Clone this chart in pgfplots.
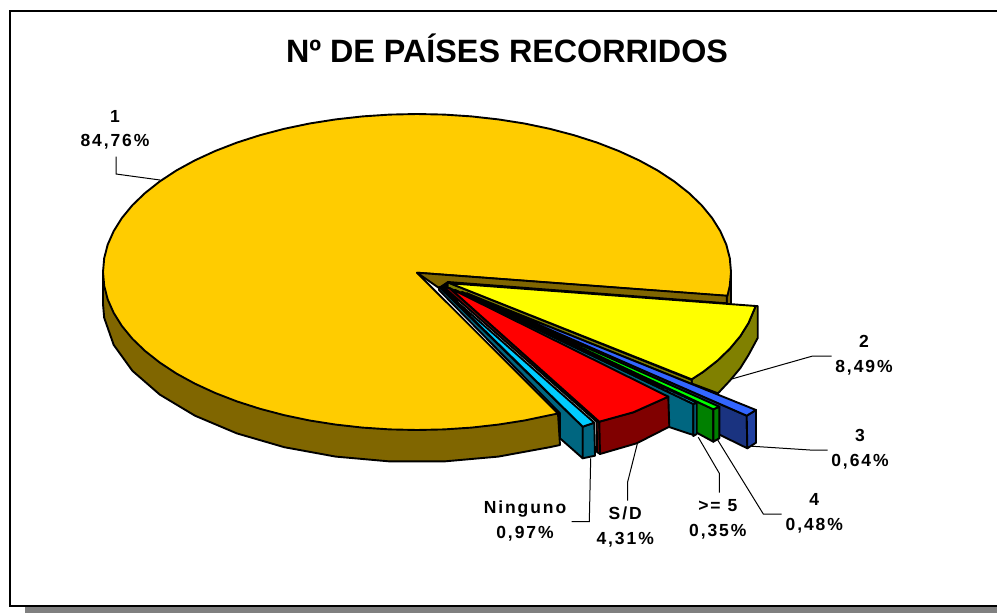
\documentclass[border=0pt]{standalone}
\usepackage{fontspec}
\setmainfont{Liberation Sans}
\newfontfamily\labfont[LetterSpace=11]{Liberation Sans}
\usepackage{pgfplots}
\pgfplotsset{compat=1.18}
\definecolor{bigtop}{HTML}{FFCC00}
\definecolor{bigside}{HTML}{806600}
\definecolor{yeltop}{HTML}{FFFF00}
\definecolor{yelside}{HTML}{808000}
\definecolor{bluetop}{HTML}{3366FF}
\definecolor{navy}{HTML}{1A3380}
\definecolor{navyb}{HTML}{2040A0}
\definecolor{grntop}{HTML}{00FF00}
\definecolor{grnside}{HTML}{008000}
\definecolor{teal2}{HTML}{006680}
\definecolor{cyan2}{HTML}{00CCFF}
\definecolor{redside}{HTML}{800000}
\definecolor{shadowc}{HTML}{808080}
\tikzset{lab/.style={font=\labfont\bfseries\fontsize{17.5}{24.5}\selectfont,align=center,text=black,inner sep=0pt}}
\pgfplotsset{poly/.style={draw=black,line width=1.9pt,line join=round,mark=none,forget plot},
 lead/.style={draw=black,line width=1pt,mark=none,forget plot}}
\begin{document}
\begin{tikzpicture}
\begin{axis}[scale only axis,width=997pt,height=613pt,xmin=0,xmax=997,ymin=0,ymax=613,y dir=reverse,hide axis,clip=true]
% page, frame and shadow
\addplot[fill=white,draw=none,mark=none,forget plot] coordinates {(0,0)(997,0)(997,613)(0,613)} -- cycle;
\addplot[fill=shadowc,draw=none,mark=none,forget plot] coordinates {(25,30)(997,30)(997,613)(25,613)} -- cycle;
\addplot[fill=white,draw=black,line width=1.3pt,mark=none,forget plot] coordinates {(10,11)(1003,11)(1003,606)(10,606)} -- cycle;
% leaders
\addplot[lead] coordinates {(116,156.7)(116,174)(160,180)};
\addplot[lead] coordinates {(731.7,379)(812.7,356)(831.7,356)};
\addplot[lead] coordinates {(748.3,446)(810,450)(827.7,450)};
\addplot[lead] coordinates {(717.7,440)(763.3,514)(781.7,514)};
\addplot[lead] coordinates {(698.3,437.3)(719.3,473.3)(719.3,492.7)};
\addplot[lead] coordinates {(637.5,443)(627.7,481.7)(627.7,500.7)};
\addplot[lead] coordinates {(590.7,458.3)(589.3,521.7)(571.7,521.7)};
% slice 1: side
\addplot[poly,fill=bigside] coordinates {(103,272)(558,413.5)(560,445)(549.7,447.2)(498.3,456.6)(444.4,461.4)(389.6,461.4)(335.7,456.6)(284.3,447.2)(236.9,433.4)(195,415.7)(159.8,394.6)(132.4,370.8)(113.7,344.9)(104.2,317.8)(103,304)} -- cycle;
\addplot[poly,fill=bigside] coordinates {(726.7,295.7)(731,272)(731,304)(726.7,304)} -- cycle;
% slice 1: top
\addplot[poly,fill=bigtop] coordinates {(417,272.7)(727.4,296)(729.8,285.8)(731,272)(729.8,258.2)(726.3,244.6)(720.3,231.1)(712.1,218)(701.6,205.2)(688.9,193)(674.2,181.4)(657.5,170.4)(639,160.3)(618.8,151)(597.1,142.6)(574,135.2)(549.7,128.8)(524.4,123.5)(498.3,119.4)(471.5,116.4)(444.4,114.6)(417,114)(389.6,114.6)(362.5,116.4)(335.7,119.4)(309.6,123.5)(284.3,128.8)(260,135.2)(236.9,142.6)(215.2,151)(195,160.3)(176.5,170.4)(159.8,181.4)(145.1,193)(132.4,205.2)(121.9,218)(113.7,231.1)(107.7,244.6)(104.2,258.2)(103,272)(104.2,285.8)(107.7,299.4)(113.7,312.9)(121.9,326)(132.4,338.8)(145.1,351)(159.8,362.6)(176.5,373.6)(195,383.7)(215.2,393)(236.9,401.4)(260,408.8)(284.3,415.2)(309.6,420.5)(335.7,424.6)(362.5,427.6)(389.6,429.4)(417,430)(444.4,429.4)(471.5,427.6)(498.3,424.6)(524.4,420.5)(549.7,415.2)(558,413.5)} -- cycle;
% inner face of slice 1
\addplot[poly,fill=bigside] coordinates {(417,272.7)(726.7,295.7)(726.7,303.3)(448,282)(439,288)} -- cycle;
% dark filler at the apex
\addplot[fill=black,draw=black,mark=none,forget plot] coordinates {(440,287)(448,282.5)(475,297)(455,302)} -- cycle;
% slice 2
\addplot[poly,fill=yelside] coordinates {(755.7,306)(748.5,323)(740.4,336)(730,348.5)(717.6,360.5)(703.1,371.9)(691.7,379.3)(691.7,383.5)(718,393.3)(730,380.5)(740.4,368)(748.5,355)(757.7,338)(757.7,306)} -- cycle;
\addplot[poly,fill=yelside] coordinates {(447.7,282.3)(691.7,380)(691.7,384)(511.7,311.7)(447.7,288.3)} -- cycle;
\addplot[poly,fill=yeltop] coordinates {(450,283.3)(755.7,306)(748.5,323)(740.4,336)(730,348.5)(717.6,360.5)(703.1,371.9)(691.7,379.3)} -- cycle;
% slice 3
\addplot[poly,fill=navy] coordinates {(466.7,293.3)(746.7,415.7)(747.3,448.3)(520,337)} -- cycle;
\addplot[poly,fill=navyb] coordinates {(746.7,415.7)(756,410)(756,442.7)(747.3,448.3)} -- cycle;
\addplot[poly,fill=bluetop] coordinates {(466.7,293.3)(756,410)(746.7,415.7)} -- cycle;
% slice 4
\addplot[poly,fill=grnside] coordinates {(462,292)(713.3,409.3)(713.3,441.7)(520,337)} -- cycle;
\addplot[poly,fill=grnside] coordinates {(713.3,409.3)(719.3,406.7)(719.3,438.3)(713.3,441.7)} -- cycle;
\addplot[poly,fill=grntop] coordinates {(462,292)(719.3,406.7)(713.3,409.3)} -- cycle;
% slice >=5
\addplot[poly,fill=teal2] coordinates {(455,290)(693.3,404)(693.3,435)(669,427)(520,337)} -- cycle;
\addplot[poly,fill=teal2] coordinates {(693.3,404)(696.7,402.7)(696.7,434)(693.3,436)} -- cycle;
\addplot[poly,fill=cyan2] coordinates {(455,290)(696.7,402.7)(693.3,404)} -- cycle;
% slice S/D
\addplot[poly,fill=redside] coordinates {(443.3,286.7)(596.7,421.7)(599.3,421.7)(450,288.3)} -- cycle;
\addplot[poly,fill=redside] coordinates {(596.7,421.7)(599.3,421.7)(600,454)(597,452)} -- cycle;
\addplot[poly,fill=redside] coordinates {(599.3,421.7)(633.3,412.3)(668.3,396.7)(669.3,426.7)(636.7,443.3)(600,454)} -- cycle;
\addplot[poly,fill=red] coordinates {(450,288.3)(668.3,396.7)(633.3,412.3)(599.3,421.7)} -- cycle;
% slice Ninguno
\addplot[poly,fill=teal2] coordinates {(439.3,287)(582.7,426.7)(582.7,458.3)(560,438.3)(560,413.3)(439,290)} -- cycle;
\addplot[poly,fill=teal2] coordinates {(582.7,426.7)(594.3,422.7)(595,455.7)(582.7,458.3)} -- cycle;
\addplot[poly,fill=cyan2] coordinates {(440,286.7)(594.3,422.7)(582.7,426.7)} -- cycle;
% text
\node[font=\bfseries\fontsize{32.3}{36}\selectfont,inner sep=0pt] at (axis cs:507,48) {Nº DE PAÍSES RECORRIDOS};
\node[lab] at (axis cs:115,130) {1\\84,76\%};
\node[lab] at (axis cs:864,355) {2\\8,49\%};
\node[lab] at (axis cs:860,449) {3\\0,64\%};
\node[lab] at (axis cs:814.3,513.5) {4\\0,48\%};
\node[lab] at (axis cs:717.8,519.5) {>= 5\\0,35\%};
\node[lab] at (axis cs:625.2,527) {S/D\\4,31\%};
\node[lab] at (axis cs:525,521) {Ninguno\\0,97\%};
\end{axis}
\end{tikzpicture}
\end{document}
